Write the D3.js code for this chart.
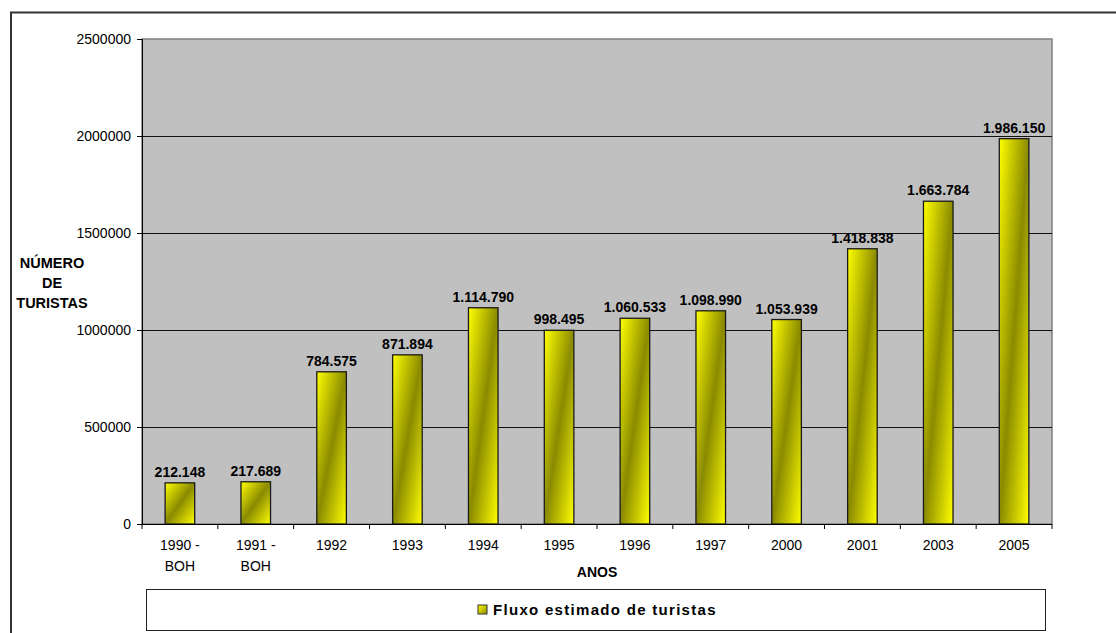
<!DOCTYPE html>
<html>
<head>
<meta charset="utf-8">
<script src="https://cdn.jsdelivr.net/npm/d3@7"></script>
<style>
  body { margin: 0; background: #fff; }
  svg { display: block; font-family: Arial, "Liberation Sans", sans-serif; }
</style>
</head>
<body>
<svg id="chart" width="1116" height="633"></svg>
<script>
// data
const categories = ['1990 - BOH', '1991 - BOH', '1992', '1993', '1994', '1995', '1996', '1997', '2000', '2001', '2003', '2005']
const tourists = [212148, 217689, 784575, 871894, 1114790, 998495, 1060533, 1098990, 1053939, 1418838, 1663784, 1986150]
const yTicks = [0, 500000, 1000000, 1500000, 2000000, 2500000]
const seriesName = 'Fluxo estimado de turistas'

const svg = d3.select('#chart')
const plot = { left: 142, right: 1052, top: 39, bottom: 524 }

// ptBR style thousands separator for the value labels
const fmtLabel = d3.formatLocale({ decimal: ',', thousands: '.', grouping: [3], currency: ['', ''] }).format(',d')

const x = d3.scaleBand()
    .domain(categories)
    .range([plot.left, plot.right])
    .paddingInner(0.61)
    .paddingOuter(0.305)

const y = d3.scaleLinear()
    .domain([0, 2500000])
    .range([plot.bottom, plot.top])

// gradient: yellow -> olive -> yellow, diagonal over each bar
const defs = svg.append('defs')
const grad = defs.append('linearGradient')
    .attr('id', 'barFill')
    .attr('x1', 0).attr('y1', 0).attr('x2', 1).attr('y2', 1)
grad.append('stop').attr('offset', '0%').attr('stop-color', '#ffff00')
grad.append('stop').attr('offset', '50%').attr('stop-color', '#8a8a00')
grad.append('stop').attr('offset', '100%').attr('stop-color', '#ffff00')

const legGrad = defs.append('linearGradient')
    .attr('id', 'legFill')
    .attr('x1', 0).attr('y1', 0).attr('x2', 1).attr('y2', 1)
legGrad.append('stop').attr('offset', '0%').attr('stop-color', '#ffff00')
legGrad.append('stop').attr('offset', '100%').attr('stop-color', '#8a8a00')

// outer chart border
svg.append('path')
    .attr('d', `M11,640 V12.5 H1116`)
    .attr('fill', 'none')
    .attr('stroke', '#333')
    .attr('stroke-width', 2)

// plot area
svg.append('rect')
    .attr('x', plot.left).attr('y', plot.top)
    .attr('width', plot.right - plot.left).attr('height', plot.bottom - plot.top)
    .attr('fill', '#c0c0c0')
    .attr('stroke', '#808080')
    .attr('stroke-width', 1.5)

// gridlines
svg.append('g')
    .selectAll('line')
    .data(yTicks.filter(d => d > 0 && d < 2500000))
    .join('line')
    .attr('x1', plot.left).attr('x2', plot.right)
    .attr('y1', d => Math.round(y(d)) + 0.5).attr('y2', d => Math.round(y(d)) + 0.5)
    .attr('stroke', '#111')
    .attr('stroke-width', 1)

// y axis
const yAxis = svg.append('g')
    .attr('transform', `translate(${plot.left},0)`)
    .call(d3.axisLeft(y).tickValues(yTicks).tickFormat(d3.format('d')).tickSize(5).tickPadding(6))
yAxis.select('.domain').attr('stroke', '#000')
yAxis.selectAll('.tick line').attr('stroke', '#000')
yAxis.selectAll('.tick text').attr('font-size', 14).attr('fill', '#000').attr('font-family', 'Arial, "Liberation Sans", sans-serif')

// bars
svg.append('g')
    .selectAll('rect')
    .data(tourists)
    .join('rect')
    .attr('x', (d, i) => x(categories[i]))
    .attr('y', d => y(d))
    .attr('width', x.bandwidth())
    .attr('height', d => y(0) - y(d))
    .attr('fill', 'url(#barFill)')
    .attr('stroke', '#1a1a1a')
    .attr('stroke-width', 1.3)

// value labels
svg.append('g')
    .selectAll('text')
    .data(tourists)
    .join('text')
    .attr('x', (d, i) => x(categories[i]) + x.bandwidth() / 2)
    .attr('y', d => y(d) - 6)
    .attr('text-anchor', 'middle')
    .attr('font-size', 14)
    .attr('font-weight', 'bold')
    .attr('fill', '#000')
    .text(d => fmtLabel(d))

// x axis baseline + ticks between categories
const step = x.step()
svg.append('line')
    .attr('x1', plot.left).attr('x2', plot.right)
    .attr('y1', plot.bottom + 0.5).attr('y2', plot.bottom + 0.5)
    .attr('stroke', '#000')
svg.append('g')
    .selectAll('line')
    .data(d3.range(categories.length + 1))
    .join('line')
    .attr('x1', i => plot.left + i * step).attr('x2', i => plot.left + i * step)
    .attr('y1', plot.bottom).attr('y2', plot.bottom + 5)
    .attr('stroke', '#000')

// x labels (split on " - " like the original wrap)
const xLab = svg.append('g')
    .selectAll('text')
    .data(categories)
    .join('text')
    .attr('x', d => x(d) + x.bandwidth() / 2)
    .attr('y', 550)
    .attr('text-anchor', 'middle')
    .attr('font-size', 14)
    .attr('fill', '#000')
xLab.each(function (d) {
    const parts = d.includes(' - ') ? [d.split(' - ')[0] + ' -', d.split(' - ')[1]] : [d]
    d3.select(this).selectAll('tspan')
        .data(parts)
        .join('tspan')
        .attr('x', x(d) + x.bandwidth() / 2)
        .attr('dy', (p, j) => j === 0 ? 0 : 21)
        .text(p => p)
})

// axis titles
svg.append('text')
    .attr('x', (plot.left + plot.right) / 2)
    .attr('y', 577)
    .attr('text-anchor', 'middle')
    .attr('font-size', 14)
    .attr('font-weight', 'bold')
    .text('ANOS')

const yTitle = svg.append('text')
    .attr('text-anchor', 'middle')
    .attr('font-size', 14.5)
    .attr('font-weight', 'bold')
yTitle.selectAll('tspan')
    .data(['NÚMERO', 'DE', 'TURISTAS'])
    .join('tspan')
    .attr('x', 52)
    .attr('y', (d, i) => 268 + i * 20)
    .text(d => d)

// legend
svg.append('rect')
    .attr('x', 146.5).attr('y', 589.5)
    .attr('width', 899).attr('height', 41)
    .attr('fill', '#fff')
    .attr('stroke', '#222')
    .attr('stroke-width', 1)
svg.append('rect')
    .attr('x', 478).attr('y', 605)
    .attr('width', 9).attr('height', 9)
    .attr('fill', 'url(#legFill)')
    .attr('stroke', '#333')
svg.append('text')
    .attr('x', 493)
    .attr('y', 615)
    .attr('font-size', 15)
    .attr('font-weight', 'bold')
    .attr('letter-spacing', 1.3)
    .text(seriesName)
</script>
</body>
</html>
